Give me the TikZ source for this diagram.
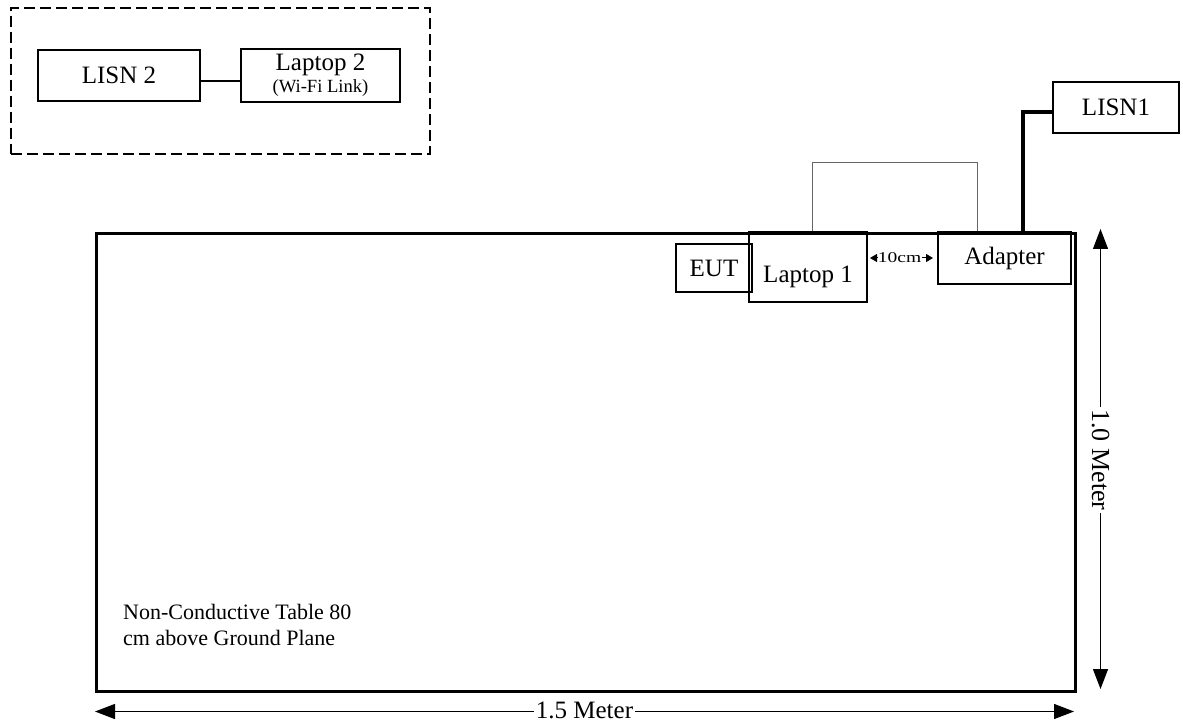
\documentclass[tikz,border=0pt]{standalone}
\usepackage{fontspec}
\usepackage{graphicx}
\setmainfont{Liberation Serif}
\usetikzlibrary{arrows.meta}
\begin{document}
\begin{tikzpicture}[x=1pt,y=-1pt,
  box/.style={draw, line width=1.6pt, inner sep=0pt, font=\fontsize{25}{30}\selectfont},
  tablebox/.style={draw, line width=3pt, inner sep=0pt},
  groupbox/.style={draw, line width=1.6pt, dash pattern=on 11pt off 5pt, inner sep=0pt},
  wire/.style={line width=1.6pt},
  powerwire/.style={line width=3.5pt},
  thinloop/.style={line width=1pt, draw=black!60},
  dimarrow/.style={line width=1.3pt, {Triangle[width=15pt,length=20pt]}-{Triangle[width=15pt,length=20pt]}},
  smallarrow/.style={line width=1pt, -{Triangle[width=8pt,length=7pt]}},
  dimlabel/.style={fill=white, inner sep=2pt, font=\fontsize{26}{30}\selectfont}
]
\useasboundingbox (0,0) rectangle (1183,727);

% group at top left
\node[groupbox, minimum width=419pt, minimum height=146pt] (group) at (220.5,81) {};
\node[box, minimum width=162pt, minimum height=51pt] (lisn2) at (119,75.5) {LISN 2};
\node[box, minimum width=159pt, minimum height=51pt] (laptop2) at (320.5,75.5)
  {\begin{tabular}{@{}c@{}}\raisebox{-1pt}{Laptop 2}\\[-7pt]{\fontsize{18.6}{22}\selectfont(Wi-Fi Link)}\end{tabular}};
\draw[wire] ([yshift=-5.5pt]lisn2.east) -- ([yshift=-5.5pt]laptop2.west);

% table
\node[tablebox, minimum width=979pt, minimum height=458pt, anchor=north west] (table) at (95,232) {};
\node[anchor=north west, align=left, inner sep=0pt, font=\fontsize{22}{26}\selectfont] (tabletext) at (123,604)
  {Non-Conductive Table 80\\cm above Ground Plane};

% equipment
\node[box, minimum width=76pt, minimum height=48pt] (eut) at (714,268) {EUT};
\node[box, minimum width=118pt, minimum height=70pt] (laptop1) at (808,267) {\raisebox{-16pt}[0pt][0pt]{Laptop 1}};
\node[box, minimum width=133pt, minimum height=52pt] (adapter) at (1004.5,258) {Adapter};
\node[box, minimum width=126pt, minimum height=51pt] (lisn1) at (1116,107.5) {LISN1};

% cables
\draw[thinloop] ([xshift=4pt]laptop1.north) -- ++(0,-69) -| ([xshift=-27.5pt]adapter.north);
\draw[powerwire] ([xshift=18.5pt]adapter.north) |- ([yshift=-4.5pt]lisn1.west);

% 10cm spacing
\node[inner sep=0.5pt, font=\fontsize{15}{18}\selectfont] (tencm) at (899.5,258) {\scalebox{1.3}[1]{10cm}};
\coordinate (tL) at (870,258);
\coordinate (tR) at (933,258);
\draw[smallarrow] (tencm.west) -- (tL);
\draw[smallarrow] (tencm.east) -- (tR);

% dimensions
\coordinate (hL) at (95,711.5);
\coordinate (hR) at (1074,711.5);
\draw[dimarrow] (hL) -- (hR);
\node[dimlabel, font=\fontsize{25}{30}\selectfont] (hlabel) at (584.5,710) {1.5 Meter};

\coordinate (vT) at (1100.5,229);
\coordinate (vB) at (1100.5,689);
\draw[dimarrow] (vT) -- (vB);
\node[dimlabel, rotate=-90] (vlabel) at (1100.5,460) {1.0 Meter};
\end{tikzpicture}
\end{document}
